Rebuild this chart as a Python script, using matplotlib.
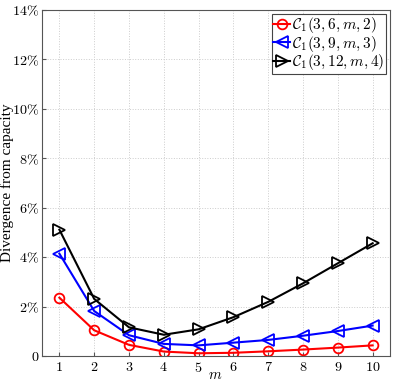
import matplotlib
matplotlib.use("Agg")
import matplotlib.pyplot as plt

plt.rcParams['mathtext.fontset'] = 'cm'
plt.rcParams['font.family'] = ['Liberation Serif', 'DejaVu Serif']

m = [1, 2, 3, 4, 5, 6, 7, 8, 9, 10]
red = [2.36, 1.04, 0.45, 0.18, 0.11, 0.13, 0.19, 0.26, 0.34, 0.43]
blue = [4.14, 1.82, 0.84, 0.49, 0.43, 0.54, 0.65, 0.82, 1.01, 1.23]
black = [5.11, 2.31, 1.16, 0.86, 1.08, 1.57, 2.19, 2.94, 3.75, 4.56]
labels = [r'$\mathcal{C}_1(3,6,m,2)$', r'$\mathcal{C}_1(3,9,m,3)$', r'$\mathcal{C}_1(3,12,m,4)$']
yticks = [0, 2, 4, 6, 8, 10, 12, 14]

fig = plt.figure(figsize=(3.95, 3.81), dpi=100)
ax = fig.add_axes([42/395, 1-356/381, 348/395, 346/381])

ax.plot(m, red, color='red', marker='o', mfc='none', ms=7, lw=1.5, mew=1.3, label=labels[0])
ax.plot(m, blue, color='blue', marker='<', mfc='none', ms=8, lw=1.5, mew=1.3, label=labels[1])
ax.plot(m, black, color='black', marker='>', mfc='none', ms=8, lw=1.5, mew=1.3, label=labels[2])

ax.set_xlim(0.5, 10.5)
ax.set_ylim(0, 14)
ax.set_xticks(m)
ax.set_yticks(yticks)
ax.set_xticklabels([f'${v}$' for v in m])
ax.set_yticklabels(['$0$'] + [f'${v}\\%$' for v in yticks[1:]])
ax.tick_params(direction='in', length=3, labelsize=10.2, color='#555555')
ax.tick_params(axis='y', pad=2)
ax.tick_params(axis='x', pad=3.5)
ax.grid(True, linestyle=':', color='#cccccc', lw=0.7)
for s in ax.spines.values():
    s.set_color('#555555')
    s.set_linewidth(0.8)

ax.set_xlabel(r'$m$', fontsize=10.5)
ax.xaxis.set_label_coords((215-42)/348, -(369-356)/346)
ax.set_ylabel('Divergence from capacity', fontsize=11)
ax.yaxis.set_label_coords(-(42-14)/348, 0.5)

leg = ax.legend(loc='upper right', fontsize=11, fancybox=False, framealpha=1,
                edgecolor='#444444', borderpad=0.1, labelspacing=-0.1,
                handlelength=1.1, handletextpad=0.15, borderaxespad=0.25)
leg.get_frame().set_linewidth(0.8)

fig.savefig('out.png', dpi=100)
